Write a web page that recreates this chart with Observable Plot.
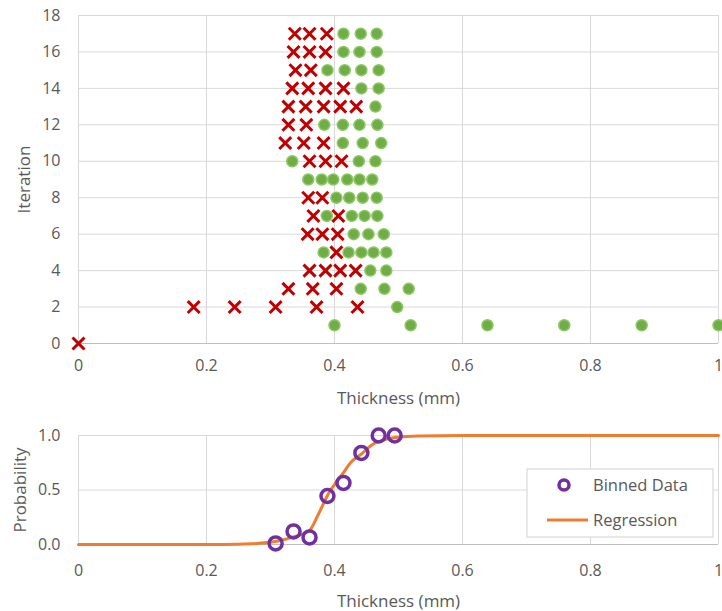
<!DOCTYPE html>
<html><head><meta charset="utf-8">
<script src="https://cdn.jsdelivr.net/npm/d3@7"></script>
<script src="https://cdn.jsdelivr.net/npm/@observablehq/plot@0.6"></script>
<style>
body{margin:0;background:#fff;}
#wrap{position:relative;width:722px;height:611px;font-family:"Open Sans",sans-serif;background:#fff;}
#wrap svg{display:block;}
</style></head><body><div id="wrap"></div>
<script>
// Top chart: failed (X) and passed (dot) samples per iteration
const failThickness = [0,
  0.18, 0.244, 0.308, 0.372, 0.436,
  0.328, 0.366, 0.403,
  0.361, 0.386, 0.409, 0.433,
  0.403,
  0.358, 0.381, 0.405,
  0.367, 0.406,
  0.359, 0.381,
  0.361, 0.386, 0.411,
  0.323, 0.352, 0.383,
  0.328, 0.356,
  0.328, 0.355, 0.383, 0.409, 0.434,
  0.334, 0.359, 0.386, 0.414,
  0.339, 0.363,
  0.336, 0.361, 0.386,
  0.338, 0.361, 0.388];
const failIteration = [0,
  2, 2, 2, 2, 2,
  3, 3, 3,
  4, 4, 4, 4,
  5,
  6, 6, 6,
  7, 7,
  8, 8,
  10, 10, 10,
  11, 11, 11,
  12, 12,
  13, 13, 13, 13, 13,
  14, 14, 14, 14,
  15, 15,
  16, 16, 16,
  17, 17, 17];
const passThickness = [
  0.40, 0.519, 0.639, 0.759, 0.880, 1.0,
  0.498,
  0.441, 0.478, 0.516,
  0.456, 0.481,
  0.383, 0.422, 0.442, 0.461, 0.481,
  0.430, 0.453, 0.477,
  0.388, 0.427, 0.447, 0.467,
  0.403, 0.423, 0.444, 0.466,
  0.359, 0.380, 0.398, 0.420, 0.439, 0.459,
  0.334, 0.438, 0.464,
  0.413, 0.444, 0.473,
  0.384, 0.413, 0.439, 0.467,
  0.464,
  0.442, 0.469,
  0.389, 0.416, 0.442, 0.469,
  0.414, 0.439, 0.466,
  0.414, 0.441, 0.466];
const passIteration = [
  1, 1, 1, 1, 1, 1,
  2,
  3, 3, 3,
  4, 4,
  5, 5, 5, 5, 5,
  6, 6, 6,
  7, 7, 7, 7,
  8, 8, 8, 8,
  9, 9, 9, 9, 9, 9,
  10, 10, 10,
  11, 11, 11,
  12, 12, 12, 12,
  13,
  14, 14,
  15, 15, 15, 15,
  16, 16, 16,
  17, 17, 17];

// Bottom chart
const binnedThickness = [0.308, 0.336, 0.361, 0.389, 0.414, 0.442, 0.469, 0.494];
const binnedProbability = [0.01, 0.12, 0.065, 0.445, 0.565, 0.84, 1.0, 1.0];
const regThickness = [0, 0.2, 0.25, 0.28, 0.31, 0.336, 0.361, 0.375, 0.389, 0.414, 0.425, 0.442, 0.46, 0.48, 0.5, 0.53, 0.6, 1.0];
const regProbability = [0, 0, 0.003, 0.01, 0.03, 0.07, 0.13, 0.28, 0.45, 0.66, 0.75, 0.83, 0.92, 0.965, 0.985, 0.996, 1, 1];

const xTicks = [0, 0.2, 0.4, 0.6, 0.8, 1];
const yTicksTop = [0, 2, 4, 6, 8, 10, 12, 14, 16, 18];
const yTicksBottom = [0, 0.5, 1];
const seriesNames = ["Binned Data", "Regression"];

const textColor = "#595959";
const gridColor = "#d9d9d9";
const axisColor = "#bfbfbf";

const fails = failThickness.map((t, i) => ({t, it: failIteration[i]}));
const passes = passThickness.map((t, i) => ({t, it: passIteration[i]}));
const binned = binnedThickness.map((t, i) => ({t, p: binnedProbability[i]}));
const reg = regThickness.map((t, i) => ({t, p: regProbability[i]}));

const style = {fontFamily: "'Open Sans', sans-serif", fontSize: "16px", color: textColor, background: "white", overflow: "visible"};

const chartTop = Plot.plot({
  width: 722, height: 410,
  marginTop: 15, marginBottom: 67, marginLeft: 78, marginRight: 4,
  style,
  x: {domain: [0, 1]},
  y: {domain: [0, 18]},
  marks: [
    Plot.gridX(xTicks.filter(d => d > 0), {stroke: gridColor, strokeOpacity: 1}),
    Plot.gridY(yTicksTop.filter(d => d > 0), {stroke: gridColor, strokeOpacity: 1}),
    Plot.ruleX([0], {stroke: gridColor}),
    Plot.ruleY([0], {stroke: axisColor}),
    Plot.axisX(xTicks, {tickSize: 0, tickPadding: 16, tickFormat: d => String(d), fill: textColor,
      label: "Thickness (mm)", labelArrow: "none", labelAnchor: "center", labelOffset: 60}),
    Plot.axisY(yTicksTop, {tickSize: 0, tickPadding: 18, fill: textColor,
      label: "Iteration", labelArrow: "none", labelAnchor: "center", labelOffset: 61}),
    Plot.dot(fails, {x: "t", y: "it", symbol: "times", r: 5.5, stroke: "#C00000", strokeWidth: 3}),
    Plot.dot(passes, {x: "t", y: "it", r: 5.5, fill: "#70AD47", stroke: "#8CC965", strokeWidth: 1.5})
  ]
});

const chartBottom = Plot.plot({
  width: 722, height: 201,
  marginTop: 25, marginBottom: 67, marginLeft: 78, marginRight: 4,
  style,
  x: {domain: [0, 1]},
  y: {domain: [0, 1]},
  marks: [
    Plot.gridX(xTicks.filter(d => d > 0), {stroke: gridColor, strokeOpacity: 1}),
    Plot.gridY(yTicksBottom.filter(d => d > 0), {stroke: gridColor, strokeOpacity: 1}),
    Plot.ruleX([0], {stroke: gridColor}),
    Plot.ruleY([0], {stroke: axisColor}),
    Plot.axisX(xTicks, {tickSize: 0, tickPadding: 20, tickFormat: d => String(d), fill: textColor,
      label: "Thickness (mm)", labelArrow: "none", labelAnchor: "center", labelOffset: 62}),
    Plot.axisY(yTicksBottom, {tickSize: 0, tickPadding: 18, tickFormat: d3.format(".1f"), fill: textColor,
      label: "Probability", labelArrow: "none", labelAnchor: "center", labelOffset: 65}),
    Plot.line(reg, {x: "t", y: "p", stroke: "#ED7D31", strokeWidth: 3, curve: "monotone-x"}),
    Plot.dot(binned, {x: "t", y: "p", r: 6.5, stroke: "#7030A0", strokeWidth: 3.5, fill: "none"})
  ]
});

for (const svg of [chartTop, chartBottom]) {
  d3.select(svg).selectAll('g[aria-label$="axis label"]').attr("font-size", 17)
    .selectAll("text").each(function() {
      this.textContent = this.textContent.replace(/\s*[→↑←↓]\s*/g, "");
    });
}

// Legend inside the bottom chart
const lg = d3.select(chartBottom).append("g").attr("transform", "translate(527,59)");
lg.append("rect").attr("width", 186).attr("height", 68).attr("fill", "white").attr("stroke", gridColor).attr("stroke-width", 1.2);
lg.append("circle").attr("cx", 37).attr("cy", 16).attr("r", 5).attr("fill", "none").attr("stroke", "#7030A0").attr("stroke-width", 3.5);
lg.append("line").attr("x1", 20).attr("x2", 61).attr("y1", 51).attr("y2", 51).attr("stroke", "#ED7D31").attr("stroke-width", 3);
lg.selectAll("text").data(seriesNames).join("text")
  .attr("x", 66).attr("y", (d, i) => i === 0 ? 16 : 51).attr("dy", "0.35em")
  .attr("text-anchor", "start")
  .attr("fill", textColor).attr("font-size", 16.5).text(d => d);

const wrap = document.getElementById("wrap");
wrap.appendChild(chartTop);
wrap.appendChild(chartBottom);
</script></body></html>
